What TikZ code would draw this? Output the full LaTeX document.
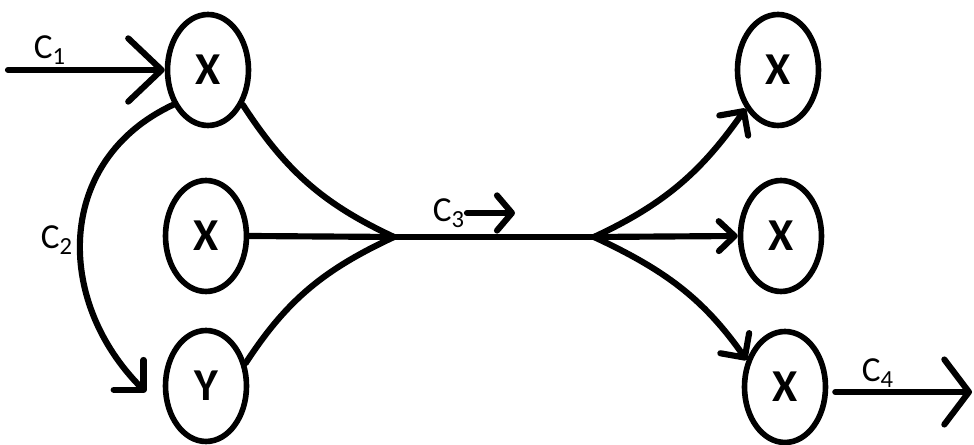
\documentclass[tikz,border=0pt]{standalone}
\usepackage{fontspec}
\setmainfont{Carlito}
\usetikzlibrary{shapes.geometric, positioning, arrows.meta, calc}

\begin{document}
\begin{tikzpicture}[
    x=0.02cm, y=0.02cm,
    statenode/.style={
        ellipse,
        draw,
        line width=3.2pt,
        minimum width=1.62cm,
        minimum height=2.22cm,
        inner sep=0pt,
        font=\bfseries\fontsize{26}{30}\selectfont
    },
    flow/.style 2 args={
        -{Straight Barb[length=#1, width=#2, round]},
        line width=3.5pt,
        line cap=round
    },
    plain/.style={
        line width=3.5pt,
        line cap=round
    },
    labelnode/.style={
        inner sep=1pt,
        font=\fontsize{20}{24}\selectfont
    }
]
    \useasboundingbox (0,0) rectangle (974,445);

    % Nodes
    \node[statenode] (xa) at (208,375) {X};
    \node[statenode] (xb) at (206,209) {X};
    \node[statenode] (yn) at (206,59) {Y};
    \node[statenode] (xc) at (778,375) {X};
    \node[statenode] (xd) at (781,209) {X};
    \node[statenode] (xe) at (785,58) {X};

    % Junctions and free ends
    \coordinate (jl) at (394,208);
    \coordinate (jr) at (594,208);
    \coordinate (c1s) at (8,375);
    \coordinate (c2e) at ($(yn.west)+(-17,-6)$);
    \coordinate (c3s) at (467,232);
    \coordinate (c3e) at (515,232);
    \coordinate (c4e) at (972,53);

    % Merging paths
    \draw[plain] (xa.-45) to[out=-57, in=155] (jl);
    \draw[plain] (xb.east) -- (jl);
    \draw[plain] (yn.30) to[out=57, in=205] (jl);
    \draw[plain] (jl) -- (jr);

    % Splitting paths
    \draw[flow={10pt}{20pt}] (jr) to[out=25, in=-125] (xc.-130);
    \draw[flow={9pt}{17pt}] (jr) -- (xd.west);
    \draw[flow={10pt}{20pt}] (jr) to[out=-25, in=125] (xe.145);

    % Labelled arrows
    \draw[flow={19pt}{36pt}] (c1s) -- (xa.west);
    \node[labelnode] (c1) at (50,395) {C\textsubscript{1}};

    \draw[flow={12pt}{24pt}] (xa.-135) to[out=-155, in=135, looseness=1.15] (c2e);
    \node[labelnode] (c2) at (57,205) {C\textsubscript{2}};

    \draw[flow={8.5pt}{20pt}] (c3s) -- (c3e);
    \node[labelnode, left=0pt of c3s] (c3) {C\textsubscript{3}};

    \draw[flow={14pt}{37pt}, shorten <=0.14cm] (xe.east |- c4e) -- (c4e);
    \node[labelnode] (c4) at (878,72) {C\textsubscript{4}};

\end{tikzpicture}
\end{document}
